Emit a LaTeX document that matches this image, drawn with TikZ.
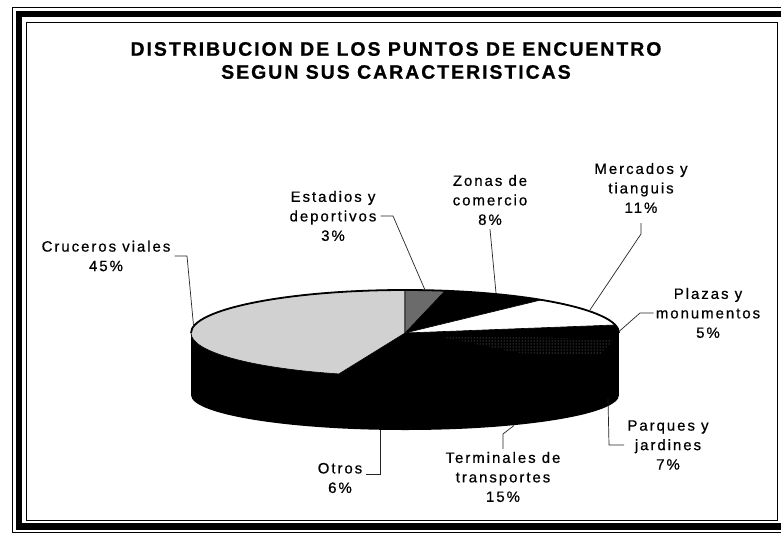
\documentclass[tikz,border=0pt]{standalone}
\usepackage{fontspec}
\setmainfont{Liberation Sans}
\newfontfamily\lblfont[LetterSpace=13,FakeBold=0.6]{Liberation Sans}
\newfontfamily\ttlfont[LetterSpace=10,FakeBold=0.8]{Liberation Sans Bold}
\usetikzlibrary{patterns}
\begin{document}
\begin{tikzpicture}[x=1pt,y=-1pt,
  lbl/.style={font=\lblfont\fontsize{15}{19.5}\selectfont, align=center, inner sep=0pt},
  ttl/.style={font=\ttlfont\fontsize{19.5}{23}\selectfont, align=center, inner sep=0pt},
  leader/.style={draw=black!85, line width=0.7pt},
  slice/.style={draw=black, line width=0.6pt, line join=round},
  frame/.style={draw=black}]
\useasboundingbox (0,0) rectangle (781,533);
\fill[white] (0,0) rectangle (781,533);
\begin{scope}
  \clip (0,0) rectangle (781,533);
  \draw[frame, line width=1pt] (12,7.5) rectangle (795,532);
  \draw[frame, line width=6.5pt] (18.75,13.75) rectangle (786,526.5);
  \draw[frame, line width=1pt] (26.5,22.5) rectangle (777.5,520);
\end{scope}

% title
\node[ttl] (t1) at (396,49) {DISTRIBUCION DE LOS PUNTOS DE ENCUENTRO};
\node[ttl] (t2) at (396,72) {SEGUN SUS CARACTERISTICAS};

% pie body
\coordinate (C) at (405,333);
\coordinate (B) at (405,395);
\fill[black] (191,333) rectangle (619,395);
\fill[black] (C) ellipse[x radius=214, y radius=43];
\fill[black] (B) ellipse[x radius=214, y radius=35];

% slices (screen angle t -> tikz angle -t)
\filldraw[slice, fill=black!18] (C) -- ++(-90:214 and 43)
  arc[start angle=-90, end angle=-252, x radius=214, y radius=43] -- cycle;
\filldraw[slice, fill=black!58] (C) -- ++(-79.2:214 and 43)
  arc[start angle=-79.2, end angle=-90, x radius=214, y radius=43] -- cycle;
\filldraw[slice, fill=white] (C) -- ++(-10.8:214 and 43)
  arc[start angle=-10.8, end angle=-50.4, x radius=214, y radius=43] -- cycle;
\fill[pattern=dots, pattern color=black!45] (437,336) -- (614,339) -- (600,355) -- (520,353) -- cycle;
\draw[line width=1.8pt] (619,333) arc[start angle=0, end angle=-180, x radius=214, y radius=43];

% leader anchor points on the pie
\coordinate (pcru) at (193.6,326.3);
\coordinate (pest) at (425.1,290.2);
\coordinate (pzon) at (496.1,294.1);
\coordinate (pmer) at (589.2,311.1);
\coordinate (ppla) at (618.9,331.6);
\coordinate (ppar) at (608,399);
\coordinate (pter) at (514,425.5);
\coordinate (potr) at (380,429.5);

% labels
\node[lbl] (cru) at (106,256) {Cruceros viales\\45\%};
\node[lbl] (est) at (333,216) {Estadios y\\deportivos\\3\%};
\node[lbl] (zon) at (490,200) {Zonas de\\comercio\\8\%};
\node[lbl] (mer) at (641,188) {Mercados y\\tianguis\\11\%};
\node[lbl] (pla) at (708,313) {Plazas y\\monumentos\\5\%};
\node[lbl] (par) at (668,445) {Parques y\\jardines\\7\%};
\node[lbl] (ter) at (503,477) {Terminales de\\transportes\\15\%};
\node[lbl] (otr) at (340,478) {Otros\\6\%};

% leaders
\draw[leader] ([xshift=4pt]cru.east) -- (187,256) -- (pcru);
\draw[leader] ([xshift=4pt]est.east) -- (393,216) -- (pest);
\draw[leader] ([yshift=-4pt]zon.south) -- (pzon);
\draw[leader] ([yshift=-10pt]mer.south) -- (641,234) -- (pmer);
\draw[leader] ([xshift=-2pt]pla.west) -- (640,313) -- (ppla);
\draw[leader] ([xshift=-3pt]par.west) -- (609,445) -- (ppar);
\draw[leader] ([yshift=3pt]ter.north) -- (503,434) -- (pter);
\draw[leader] ([xshift=4pt,yshift=4pt]otr.east) -- (380,474) -- (potr);
\end{tikzpicture}
\end{document}
